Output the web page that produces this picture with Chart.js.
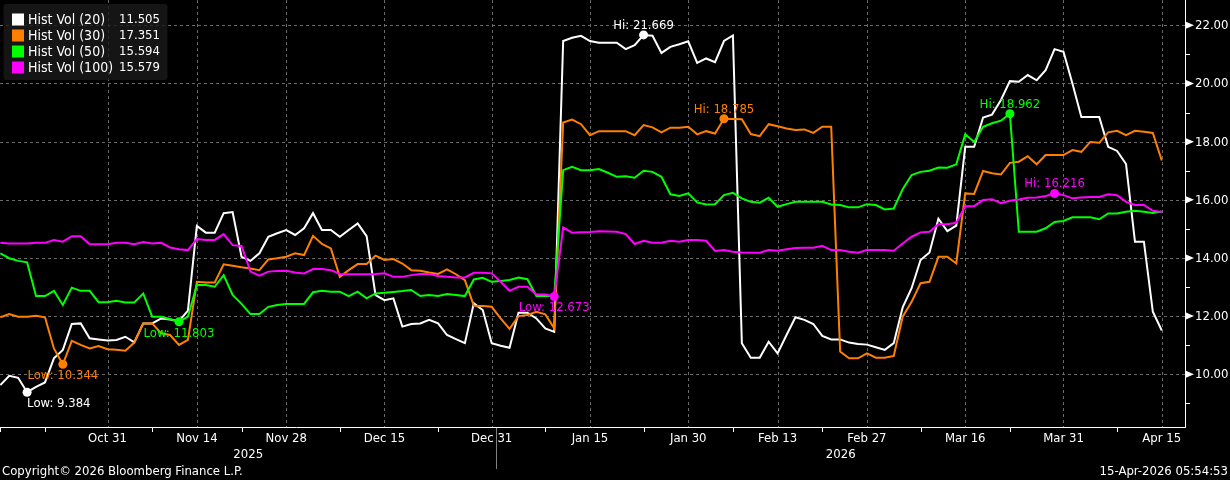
<!DOCTYPE html>
<html><head><meta charset="utf-8">
<script src="https://cdn.jsdelivr.net/npm/chart.js@4.4.1/dist/chart.umd.min.js"></script>
<style>html,body{margin:0;padding:0;background:#000;overflow:hidden}#wrap{width:1230px;height:480px}</style>
</head><body><div id="wrap"><canvas id="c" width="1230" height="480"></canvas></div>
<script>
// ---- data (one point per trading day, 15-Oct-2025 .. 15-Apr-2026) ----
const seriesNames = ["Hist Vol (20)", "Hist Vol (30)", "Hist Vol (50)", "Hist Vol (100)"];
const seriesColors = ["#ffffff", "#ff8000", "#00ff00", "#ff00ff"];

const hv20 = [9.63,9.95,9.88,9.384,9.57,9.72,10.55,10.84,11.73,11.75,11.24,11.20,11.16,11.18,11.29,11.10,11.75,11.75,11.92,11.88,
 11.83,12.19,15.10,14.87,14.87,15.54,15.58,14.04,13.90,14.16,14.73,14.85,14.96,14.79,15.02,15.54,14.96,14.96,14.73,14.96,
 15.19,14.75,12.72,12.55,12.61,11.64,11.73,11.75,11.87,11.75,11.35,11.21,11.07,12.44,12.21,11.07,10.98,10.91,12.12,12.12,
 11.92,11.58,11.46,21.46,21.57,21.64,21.46,21.40,21.40,21.40,21.18,21.32,21.669,21.64,21.05,21.26,21.35,21.45,20.71,20.86,
 20.73,21.46,21.65,11.07,10.57,10.57,11.12,10.72,11.35,11.96,11.87,11.73,11.32,11.20,11.20,11.09,11.04,11.02,10.93,10.84,
 11.07,12.30,12.96,13.93,14.19,15.35,14.92,15.11,17.82,17.82,18.83,18.93,19.43,20.08,20.06,20.29,20.11,20.46,21.18,21.09,
 20.00,18.85,18.85,18.85,17.82,17.68,17.23,14.56,14.56,12.15,11.505];
const hv30 = [11.96,12.07,11.98,11.98,12.01,11.96,10.89,10.344,11.15,11.01,10.89,10.97,10.86,10.84,10.81,11.09,11.75,11.75,11.41,11.35,
 11.01,11.18,13.18,13.16,13.16,13.78,13.73,13.68,13.64,13.58,13.95,13.99,14.04,14.16,14.10,14.76,14.48,14.33,13.35,13.58,
 13.79,13.79,14.08,13.93,13.96,13.81,13.58,13.56,13.50,13.45,13.61,13.44,13.24,12.36,12.35,12.32,11.92,11.56,12.00,12.04,
 12.15,12.06,11.58,18.66,18.76,18.60,18.22,18.36,18.36,18.36,18.36,18.22,18.57,18.49,18.32,18.48,18.48,18.51,18.25,18.36,
 18.28,18.785,18.78,18.77,18.26,18.19,18.60,18.53,18.45,18.40,18.42,18.30,18.51,18.51,10.78,10.55,10.55,10.72,10.57,10.57,
 10.63,11.98,12.49,13.13,13.18,14.04,14.04,13.81,16.22,16.20,16.99,16.91,16.87,17.27,17.31,17.50,17.22,17.54,17.54,17.54,
 17.71,17.65,17.99,17.96,18.32,18.37,18.22,18.37,18.34,18.30,17.351];
const hv50 = [14.16,13.99,13.90,13.85,12.69,12.69,12.87,12.38,12.98,12.87,12.87,12.48,12.48,12.53,12.47,12.47,12.78,11.98,11.98,11.90,
 11.803,11.98,13.07,13.07,13.01,13.41,12.73,12.42,12.07,12.07,12.32,12.38,12.42,12.42,12.42,12.82,12.87,12.84,12.84,12.69,
 12.84,12.61,12.78,12.80,12.83,12.86,12.90,12.69,12.73,12.69,12.76,12.73,12.69,13.26,13.32,13.18,13.21,13.24,13.33,13.27,
 12.69,12.69,12.69,17.02,17.13,17.02,17.02,17.06,16.93,16.79,16.81,16.76,17.00,16.96,16.79,16.19,16.13,16.22,15.91,15.84,
 15.85,16.16,16.24,16.05,15.93,15.90,16.07,15.76,15.85,15.93,15.93,15.93,15.93,15.84,15.82,15.74,15.74,15.85,15.82,15.67,
 15.70,16.36,16.85,16.96,17.00,17.11,17.10,17.22,18.25,17.99,18.51,18.63,18.72,18.962,14.90,14.90,14.90,15.02,15.24,15.27,
 15.40,15.40,15.40,15.33,15.53,15.53,15.59,15.62,15.59,15.55,15.594];
const hv100 = [14.52,14.50,14.50,14.50,14.52,14.52,14.62,14.56,14.75,14.75,14.47,14.47,14.47,14.52,14.52,14.47,14.55,14.50,14.52,14.36,
 14.30,14.27,14.65,14.62,14.62,14.82,14.44,14.41,13.53,13.39,13.53,13.55,13.56,13.50,13.47,13.62,13.62,13.58,13.45,13.44,
 13.44,13.44,13.45,13.47,13.35,13.35,13.41,13.45,13.45,13.38,13.35,13.33,13.33,13.49,13.49,13.47,13.18,12.87,13.01,13.01,
 12.74,12.74,12.673,15.05,14.87,14.88,14.89,14.92,14.91,14.90,14.82,14.48,14.59,14.52,14.52,14.59,14.56,14.62,14.62,14.59,
 14.24,14.27,14.21,14.19,14.18,14.18,14.27,14.25,14.30,14.34,14.35,14.35,14.42,14.27,14.27,14.21,14.18,14.27,14.27,14.27,
 14.25,14.50,14.73,14.88,14.90,15.16,15.16,15.21,15.78,15.78,15.99,16.02,15.88,15.97,16.01,16.07,16.08,16.13,16.216,16.16,
 16.05,16.08,16.10,16.10,16.19,16.16,15.93,15.82,15.82,15.62,15.579];

const tickLabels = ["Oct 31","Nov 14","Nov 28","Dec 15","Dec 31","Jan 15","Jan 30","Feb 13","Feb 27","Mar 16","Mar 31","Apr 15"];
const tickIndex  = [12,22,32,43,55,66,77,87,97,108,119,130];
const minorTickIndex = [0,5,17,27,38,49,61,72,82,92,103,113,125];
const yearLabels = ["2025","2026"];
const yearStartIndex = [0,55.5];   // first year boundary sits between Dec 31 and Jan 2
const yTicks = [10,12,14,16,18,20,22];
const yMinorTicks = [9,11,13,15,17,19,21];
const copyrightText = "Copyright\u00A9 2026 Bloomberg Finance L.P.";
const stampText = "15-Apr-2026 05:54:53";

const allSeries = [hv20, hv30, hv50, hv100];
const FONT = '"DejaVu Sans Condensed", "Liberation Sans Narrow", "DejaVu Sans", sans-serif';

function argMin(a){let k=0;a.forEach((v,i)=>{if(v<a[k])k=i;});return k;}
function argMax(a){let k=0;a.forEach((v,i)=>{if(v>a[k])k=i;});return k;}
const lowIdx = allSeries.map(argMin);
const hiIdx = allSeries.map(argMax);

const datasets = allSeries.map((arr, d) => ({
  label: seriesNames[d],
  data: arr.map((v, i) => ({x: i, y: v})),
  borderColor: seriesColors[d],
  backgroundColor: seriesColors[d],
  borderWidth: 2,
  tension: 0,
  order: 3 - d,
  pointRadius: c => (c.dataIndex === lowIdx[d] || c.dataIndex === hiIdx[d]) ? 4.5 : 0,
  pointHoverRadius: 0,
  pointBorderWidth: 0,
  pointBackgroundColor: seriesColors[d],
}));

const decor = {
  id: 'decor',
  beforeDraw(chart) {
    const ctx = chart.ctx;
    ctx.save();
    ctx.fillStyle = '#000';
    ctx.fillRect(0, 0, chart.width, chart.height);
    ctx.restore();
  },
  beforeDatasetsDraw(chart) {
    const {ctx, chartArea: a, scales: {x, y}} = chart;
    ctx.save();
    ctx.strokeStyle = '#6a6a6a';
    ctx.lineWidth = 1;
    ctx.setLineDash([3, 3]);
    yTicks.forEach(v => {
      const py = Math.round(y.getPixelForValue(v)) + 0.5;
      ctx.beginPath(); ctx.moveTo(a.left, py); ctx.lineTo(a.right, py); ctx.stroke();
    });
    tickIndex.forEach(i => {
      const px = Math.round(x.getPixelForValue(i)) + 0.5;
      ctx.beginPath(); ctx.moveTo(px, a.top); ctx.lineTo(px, a.bottom); ctx.stroke();
    });
    ctx.restore();
  },
  afterDatasetsDraw(chart) {
    const {ctx, chartArea: a, scales: {x, y}} = chart;
    ctx.save();
    // axes
    ctx.strokeStyle = '#ffffff';
    ctx.lineWidth = 1;
    ctx.beginPath();
    ctx.moveTo(a.left, a.bottom - 0.5); ctx.lineTo(a.right + 0.5, a.bottom - 0.5);
    ctx.moveTo(a.right + 0.5, a.top); ctx.lineTo(a.right + 0.5, a.bottom);
    ctx.stroke();
    // x minor ticks
    ctx.beginPath();
    minorTickIndex.forEach(i => {
      const px = Math.round(x.getPixelForValue(i)) + 0.5;
      ctx.moveTo(px, a.bottom); ctx.lineTo(px, a.bottom + 4);
    });
    // y minor ticks
    yMinorTicks.forEach(v => {
      const py = Math.round(y.getPixelForValue(v)) + 0.5;
      ctx.moveTo(a.right, py); ctx.lineTo(a.right + 5, py);
    });
    ctx.stroke();
    // y labels with pointers
    ctx.fillStyle = '#ffffff';
    ctx.font = '13px ' + FONT;
    ctx.textAlign = 'left';
    ctx.textBaseline = 'middle';
    yTicks.forEach(v => {
      const py = y.getPixelForValue(v);
      ctx.beginPath();
      ctx.moveTo(a.right + 1, py - 3.5); ctx.lineTo(a.right + 9, py); ctx.lineTo(a.right + 1, py + 3.5);
      ctx.closePath(); ctx.fill();
      ctx.fillText(v.toFixed(2), a.right + 10, py + 0.5);
    });
    // x labels
    ctx.textAlign = 'center';
    tickIndex.forEach((i, k) => {
      ctx.fillText(tickLabels[k], x.getPixelForValue(i), a.bottom + 11);
    });
    // year separator + labels
    const sep = Math.round(x.getPixelForValue(yearStartIndex[1])) + 0.5;
    ctx.strokeStyle = '#808080';
    ctx.beginPath(); ctx.moveTo(sep, a.bottom); ctx.lineTo(sep, a.bottom + 41); ctx.stroke();
    const bounds = [a.left, sep, a.right];
    yearLabels.forEach((t, k) => {
      ctx.fillText(t, (bounds[k] + bounds[k + 1]) / 2, a.bottom + 26.5);
    });
    // footer
    ctx.textAlign = 'left';
    ctx.fillText(copyrightText, 2, a.bottom + 44);
    ctx.textAlign = 'right';
    ctx.fillText(stampText, chart.width - 2, a.bottom + 44);

    // Hi / Low annotations
    ctx.font = '13px ' + FONT;
    allSeries.forEach((arr, d) => {
      const meta = chart.getDatasetMeta(d);
      [[lowIdx[d], 'Low: ', 11.5], [hiIdx[d], 'Hi: ', -9.5]].forEach(([idx, pre, dy]) => {
        const pt = meta.data[idx];
        const txt = pre + arr[idx].toFixed(3);
        const w = ctx.measureText(txt).width;
        let tx = pt.x - w / 2;
        if (tx < a.left) tx = pt.x;
        ctx.fillStyle = seriesColors[d];
        ctx.textAlign = 'left';
        ctx.fillText(txt, tx, pt.y + dy);
      });
    });

    // legend
    ctx.fillStyle = 'rgba(26,26,26,0.8)';
    ctx.beginPath();
    if (ctx.roundRect) ctx.roundRect(3.5, 4, 164, 76, 3); else ctx.rect(3.5, 4, 164, 76);
    ctx.fill();
    allSeries.forEach((arr, d) => {
      const ry = 19.5 + d * 16;
      ctx.fillStyle = seriesColors[d];
      ctx.fillRect(12, ry - 6, 12, 12);
      ctx.fillStyle = '#ffffff';
      ctx.textAlign = 'left';
      ctx.font = '14px ' + FONT;
      ctx.fillText(seriesNames[d], 28, ry + 0.5);
      ctx.textAlign = 'right';
      ctx.font = '13px ' + FONT;
      ctx.fillText(arr[arr.length - 1].toFixed(3), 160, ry + 0.5);
    });
    ctx.restore();
  }
};

new Chart(document.getElementById('c'), {
  type: 'line',
  data: { datasets },
  options: {
    responsive: false,
    devicePixelRatio: 1,
    animation: false,
    events: [],
    layout: { padding: { left: 0, right: 45, top: 0, bottom: 52 } },
    plugins: { legend: { display: false }, tooltip: { enabled: false } },
    scales: {
      x: { type: 'linear', min: -0.034, max: 132.6, display: false },
      y: { type: 'linear', min: 8.153, max: 22.87, display: false }
    }
  },
  plugins: [decor]
});
</script>
</body></html>
